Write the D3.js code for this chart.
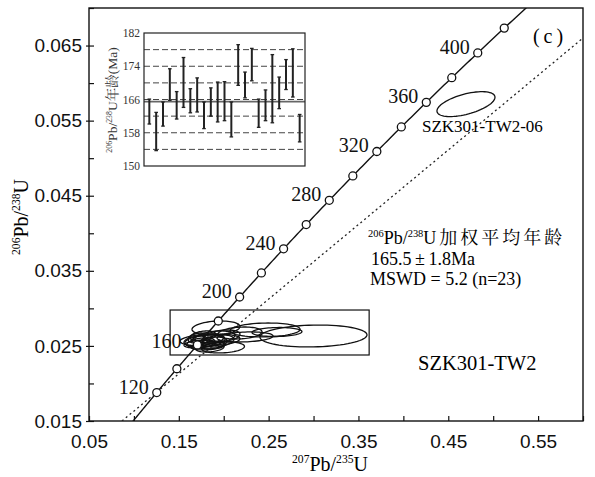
<!DOCTYPE html>
<html>
<head>
<meta charset="utf-8">
<script src="https://cdn.jsdelivr.net/npm/d3@7"></script>
<style>
  body { margin: 0; background: #fff; }
  svg { display: block; font-family: "Liberation Serif", "Noto Serif CJK SC", "Noto Sans CJK SC", serif; }
</style>
</head>
<body>
<svg></svg>
<script>
// axis ticks
const xMajor = [0.05, 0.15, 0.25, 0.35, 0.45, 0.55];
const xMinor = [0.1, 0.2, 0.3, 0.4, 0.5, 0.6];
const yMajor = [0.015, 0.025, 0.035, 0.045, 0.055, 0.065];
const yMinor = [0.02, 0.03, 0.04, 0.05, 0.06, 0.07];

// concordia age marks (Ma)
const markAges = [120, 140, 160, 180, 200, 220, 240, 260, 280, 300, 320, 340, 360, 380, 400, 420];
const labelAges = [120, 160, 200, 240, 280, 320, 360, 400];

// analyses: 207Pb/235U, 206Pb/238U and half extents of the error ellipses
const ratio75 = [0.2999, 0.2460, 0.2593, 0.1847, 0.1992, 0.1791, 0.1825, 0.1869, 0.1736, 0.1903, 0.1691, 0.1936,
                 0.1825, 0.1769, 0.1981, 0.1747, 0.1881, 0.2181, 0.2237, 0.1714, 0.1847, 0.1914, 0.4697];
const err75 = [0.0596, 0.0390, 0.0278, 0.0334, 0.0239, 0.0223, 0.0178, 0.0167, 0.0178, 0.0223, 0.0134, 0.0178,
               0.0189, 0.0145, 0.0200, 0.0156, 0.0134, 0.0245, 0.0312, 0.0111, 0.0156, 0.0267, 0.0323];
const ratio68 = [0.02632, 0.02712, 0.02685, 0.02579, 0.02479, 0.02565, 0.02592, 0.02539, 0.02525, 0.02619, 0.02565, 0.02565,
                 0.02499, 0.02632, 0.02632, 0.02539, 0.02512, 0.02672, 0.02619, 0.02605, 0.02472, 0.02739, 0.0572];
const err68 = [0.00146, 0.00093, 0.00060, 0.00080, 0.00073, 0.00080, 0.00067, 0.00080, 0.00053, 0.00080, 0.00067, 0.00080,
               0.00053, 0.00067, 0.00080, 0.00067, 0.00053, 0.00080, 0.00067, 0.00067, 0.00053, 0.00093, 0.00166];
const rho = [0.1, 0.1, 0.1, 0.2, 0.2, 0.3, 0.3, 0.3, 0.3, 0.3, 0.3, 0.3,
             0.3, 0.3, 0.3, 0.3, 0.3, 0.2, 0.2, 0.3, 0.3, 0.2, 0.55];

// dotted reference line
const refLine = [[0.0867, 0.015], [0.6, 0.066]];

// inset: 206Pb/238U ages (Ma) and errors
const ages = [163.1, 158.3, 162.5, 169.6, 164.6, 170.1, 165.7, 167.1, 162.2, 165.4, 165.4, 165.6,
              161.2, 174.3, 169.5, 174.4, 162.7, 164.6, 168.6, 167.6, 172.0, 172.4, 159.1];
const ageErr = [3.0, 4.6, 2.9, 3.8, 3.3, 6.0, 2.9, 4.1, 3.2, 3.4, 4.8, 4.7,
                4.2, 4.9, 3.1, 3.9, 3.4, 3.7, 8.2, 3.8, 3.6, 5.8, 3.3];
const insetTicks = [150, 158, 166, 174, 182];
const insetGrid = [154, 158, 162, 166, 170, 174, 178];
const meanAge = 165.5;

const width = 595, height = 477;
const svg = d3.select('svg').attr('width', width).attr('height', height);
const margin = { top: 8, right: 12, bottom: 56, left: 89 };
const x = d3.scaleLinear().domain([0.05, 0.6]).range([margin.left, width - margin.right]);
const y = d3.scaleLinear().domain([0.015, 0.07]).range([height - margin.bottom, margin.top]);
const x0 = x.range()[0], x1 = x.range()[1], y0 = y.range()[0], y1 = y.range()[1];

svg.append('clipPath').attr('id', 'plot')
  .append('rect').attr('x', x0).attr('y', y1).attr('width', x1 - x0).attr('height', y0 - y1);

function richText(parent, px, py, parts, size, anchor) {
  const t = parent.append('text').attr('x', px).attr('y', py)
    .attr('font-size', size).attr('text-anchor', anchor || 'start');
  let shift = 0;
  parts.forEach(p => {
    const s = p.sup ? -size * 0.4 : 0;
    const ts = t.append('tspan').attr('dy', s - shift)
      .attr('font-size', p.sup ? size * 0.58 : size).text(p.t);
    if (p.ls) ts.attr('letter-spacing', p.ls);
    shift = s;
  });
  return t;
}

// axes (ticks inside)
svg.append('g').attr('transform', `translate(0,${y0})`)
  .call(d3.axisBottom(x).tickValues(xMajor).tickSize(-5).tickPadding(14).tickFormat(d3.format('.2f')))
  .call(g => g.select('.domain').remove());
svg.append('g').attr('transform', `translate(0,${y0})`)
  .call(d3.axisBottom(x).tickValues(xMinor).tickSize(-5).tickFormat(''))
  .call(g => g.select('.domain').remove());
svg.append('g').attr('transform', `translate(${x0},0)`)
  .call(d3.axisLeft(y).tickValues(yMajor).tickSize(3).tickPadding(4).tickFormat(d3.format('.3f')))
  .call(g => g.select('.domain').remove());
svg.append('g').attr('transform', `translate(${x0},0)`)
  .call(d3.axisLeft(y).tickValues(yMajor.concat(yMinor)).tickSize(-5).tickFormat(''))
  .call(g => g.select('.domain').remove());
svg.selectAll('.tick text').attr('font-size', 19).attr('font-family', null).attr('fill', '#111');
svg.selectAll('.tick line').attr('stroke', '#111').attr('stroke-width', 1.2);

svg.append('rect').attr('x', x0).attr('y', y1).attr('width', x1 - x0).attr('height', y0 - y1)
  .attr('fill', 'none').attr('stroke', '#111').attr('stroke-width', 1.4);

// axis titles
richText(svg, 330, 471, [{ t: '207', sup: true }, { t: 'Pb/' }, { t: '235', sup: true }, { t: 'U' }], 20, 'middle');
richText(svg.append('g').attr('transform', 'translate(28,217) rotate(-90)'), 0, 0,
  [{ t: '206', sup: true }, { t: 'Pb/' }, { t: '238', sup: true }, { t: 'U' }], 20, 'middle');

const plot = svg.append('g').attr('clip-path', 'url(#plot)');

// dotted line
plot.append('path')
  .attr('d', d3.line().x(d => x(d[0])).y(d => y(d[1]))(refLine))
  .attr('fill', 'none').attr('stroke', '#222').attr('stroke-width', 1.3).attr('stroke-dasharray', '2,3');

// concordia
const l238 = 1.55125e-4, l235 = 9.8485e-4; // per Ma
const conc = t => [Math.expm1(l235 * t), Math.expm1(l238 * t)];
plot.append('path')
  .attr('d', d3.line().x(d => x(d[0])).y(d => y(d[1]))(d3.range(90, 450, 2).map(conc)))
  .attr('fill', 'none').attr('stroke', '#111').attr('stroke-width', 1.4);

// box around the main cluster
plot.append('rect')
  .attr('x', x(0.1403)).attr('y', y(0.02978)).attr('width', x(0.3619) - x(0.1403)).attr('height', y(0.02379) - y(0.02978))
  .attr('fill', 'none').attr('stroke', '#111').attr('stroke-width', 1.2);

// error ellipses
const theta = d3.range(0, 2 * Math.PI, Math.PI / 36);
const ellLine = d3.line().curve(d3.curveLinearClosed);
ratio75.forEach((cx, i) => {
  const r = rho[i], q = Math.sqrt(1 - r * r);
  const pts = theta.map(a => [x(cx + err75[i] * Math.cos(a)),
                              y(ratio68[i] + err68[i] * (r * Math.cos(a) + q * Math.sin(a)))]);
  plot.append('path').attr('d', ellLine(pts))
    .attr('fill', 'none').attr('stroke', '#111').attr('stroke-width', 1.3);
});

// age marks
plot.selectAll('.mark').data(markAges).enter().append('circle')
  .attr('class', 'mark')
  .attr('cx', d => x(conc(d)[0])).attr('cy', d => y(conc(d)[1])).attr('r', 4)
  .attr('fill', '#fff').attr('stroke', '#111').attr('stroke-width', 1.3);
svg.selectAll('.agelab').data(labelAges).enter().append('text')
  .attr('class', 'agelab')
  .attr('x', d => x(conc(d)[0]) - (d === 160 ? 16 : 8)).attr('y', d => y(conc(d)[1]) + (d === 160 ? 3 : 1))
  .attr('text-anchor', 'end').attr('font-size', 20).attr('fill', '#111')
  .text(d => d);

// annotations
svg.append('text').attr('x', 550).attr('y', 43).attr('text-anchor', 'middle')
  .attr('font-size', 20).attr('letter-spacing', 4).text('(c)');
svg.append('text').attr('x', 422).attr('y', 132).attr('font-size', 17).text('SZK301-TW2-06');
svg.append('text').attr('x', 418).attr('y', 370).attr('font-size', 20.5).text('SZK301-TW2');
richText(svg, 368, 244, [{ t: '206', sup: true }, { t: 'Pb/' }, { t: '238', sup: true }, { t: 'U加权平均年龄', ls: 3 }], 18);
svg.append('text').attr('x', 371).attr('y', 265).attr('font-size', 18).text('165.5\u2009±\u20091.8Ma');
svg.append('text').attr('x', 370).attr('y', 285).attr('font-size', 18).text('MSWD = 5.2 (n=23)');

// inset
const ix = d3.scalePoint().domain(d3.range(ages.length)).range([144, 305]).padding(0.78);
const iy = d3.scaleLinear().domain([150, 182]).range([166, 33]);
const inset = svg.append('g');
inset.append('rect').attr('x', 144).attr('y', 33).attr('width', 161).attr('height', 133).attr('fill', '#fff');
inset.selectAll('.grid').data(insetGrid).enter().append('line')
  .attr('x1', 144).attr('x2', 305).attr('y1', d => iy(d)).attr('y2', d => iy(d))
  .attr('stroke', '#444').attr('stroke-width', 1).attr('stroke-dasharray', '6,3');
inset.append('line').attr('x1', 144).attr('x2', 305).attr('y1', iy(meanAge)).attr('y2', iy(meanAge))
  .attr('stroke', '#666').attr('stroke-width', 1.6);
const bars = inset.selectAll('.bar').data(ages).enter().append('g').attr('class', 'bar');
bars.append('line')
  .attr('x1', (d, i) => ix(i)).attr('x2', (d, i) => ix(i))
  .attr('y1', (d, i) => iy(d + ageErr[i])).attr('y2', (d, i) => iy(d - ageErr[i]))
  .attr('stroke', '#222').attr('stroke-width', 2);
[1, -1].forEach(sg => {
  bars.append('line')
    .attr('x1', (d, i) => ix(i) - 1.8).attr('x2', (d, i) => ix(i) + 1.8)
    .attr('y1', (d, i) => iy(d + sg * ageErr[i])).attr('y2', (d, i) => iy(d + sg * ageErr[i]))
    .attr('stroke', '#222').attr('stroke-width', 1.3);
});
inset.append('rect').attr('x', 144).attr('y', 33).attr('width', 161).attr('height', 133)
  .attr('fill', 'none').attr('stroke', '#222').attr('stroke-width', 1.2);
inset.selectAll('.itick').data(insetTicks).enter().append('text')
  .attr('x', 140).attr('y', d => iy(d) + 4).attr('text-anchor', 'end')
  .attr('font-size', 11.5).attr('fill', '#333').text(d => d);
richText(inset.append('g').attr('transform', 'translate(117,100) rotate(-90)'), 0, 0,
  [{ t: '206', sup: true }, { t: 'Pb/' }, { t: '238', sup: true }, { t: 'U年龄(Ma)' }], 13.5, 'middle')
  .attr('fill', '#333');
</script>
</body>
</html>
